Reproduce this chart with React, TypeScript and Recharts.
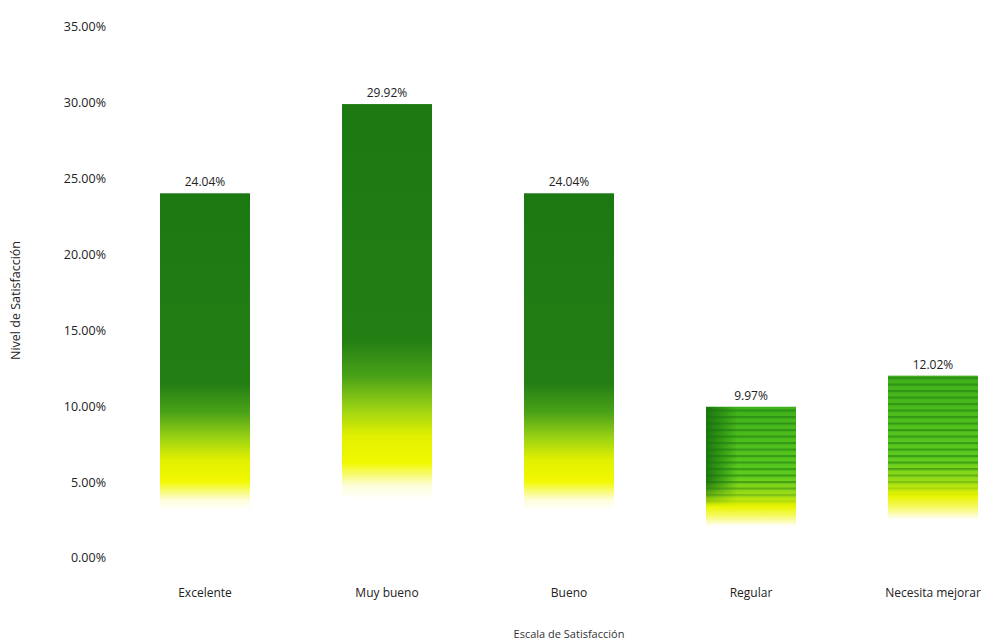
import { Bar, BarChart, LabelList, XAxis, YAxis } from "recharts";

const categories = ["Excelente", "Muy bueno", "Bueno", "Regular", "Necesita mejorar"];
const percentages = [24.04, 29.92, 24.04, 9.97, 12.02];
const yTicks = [0, 5, 10, 15, 20, 25, 30, 35];

// the two smaller bars are drawn with a lighter, striped fill
const striped = [false, false, false, true, true];

const data = categories.map((name, i) => ({ name, value: percentages[i] }));

const FONT = "'Open Sans', 'Liberation Sans', sans-serif";
const pct = (v: number) => `${v.toFixed(2)}%`;

function GradientBar(props: any) {
  const { x, y, width, height, index } = props;
  const isStriped = striped[index];
  return (
    <g>
      <rect x={x} y={y} width={width} height={height} fill={`url(#barFill${index})`} />
      {isStriped && (
        <rect
          x={x}
          y={y}
          width={width}
          height={height}
          fill="url(#stripes)"
          mask="url(#fadeDown)"
        />
      )}
      {index === 3 && (
        <rect
          x={x}
          y={y}
          width={width}
          height={height}
          fill="url(#leftShade)"
          mask="url(#fadeDown)"
        />
      )}
    </g>
  );
}

function stopsFor(i: number) {
  if (striped[i]) {
    return [
      [0, "#3fb01a"],
      [0.45, "#5ccb1e"],
      [0.58, "#9cdc16"],
      [0.66, "#e8f400"],
      [0.72, "#f6f960"],
      [0.79, "#ffffff"],
      [1, "#ffffff"],
    ];
  }
  return [
    [0, "#1c7912"],
    [0.52, "#237e14"],
    [0.6, "#4aa218"],
    [0.67, "#9ad214"],
    [0.73, "#e0f000"],
    [0.79, "#f2f800"],
    [0.84, "#fdfdd8"],
    [0.87, "#ffffff"],
    [1, "#ffffff"],
  ];
}

export default function App() {
  return (
    <div
      style={{
        position: "absolute",
        left: 0,
        top: 0,
        width: 1007,
        height: 642,
        overflow: "hidden",
        background: "#ffffff",
      }}
    >
      <BarChart
        width={1040}
        height={642}
        data={data}
        margin={{ top: 27, right: 16, bottom: 0, left: 0 }}
        barSize={90}
      >
        <defs>
          {categories.map((c, i) => (
            <linearGradient key={c} id={`barFill${i}`} x1="0" y1="0" x2="0" y2="1">
              {stopsFor(i).map(([o, col], k) => (
                <stop key={k} offset={o as number} stopColor={col as string} />
              ))}
            </linearGradient>
          ))}
          <pattern id="stripes" patternUnits="userSpaceOnUse" width={12} height={6.5}>
            <rect x={0} y={0} width={12} height={2.2} fill="#1f7a10" opacity={0.55} />
          </pattern>
          <linearGradient id="leftShade" x1="0" y1="0" x2="1" y2="0">
            <stop offset={0} stopColor="#17700e" stopOpacity={0.9} />
            <stop offset={0.2} stopColor="#17700e" stopOpacity={0.4} />
            <stop offset={0.35} stopColor="#17700e" stopOpacity={0} />
          </linearGradient>
          <linearGradient id="fadeGrad" x1="0" y1="0" x2="0" y2="1">
            <stop offset={0} stopColor="#fff" />
            <stop offset={0.5} stopColor="#fff" />
            <stop offset={0.66} stopColor="#000" />
            <stop offset={1} stopColor="#000" />
          </linearGradient>
          <mask id="fadeDown" maskContentUnits="objectBoundingBox">
            <rect x={0} y={0} width={1} height={1} fill="url(#fadeGrad)" />
          </mask>
        </defs>
        <XAxis
          dataKey="name"
          axisLine={false}
          tickLine={false}
          height={84}
          tickMargin={24}
          tick={{ fontFamily: FONT, fontSize: 12, fill: "#222" }}
          label={{
            value: "Escala de Satisfacción",
            position: "insideBottom",
            offset: 4,
            style: { fontFamily: FONT, fontSize: 11, fill: "#333" },
          }}
        />
        <YAxis
          domain={[0, 35]}
          ticks={yTicks}
          width={114}
          axisLine={false}
          tickLine={false}
          tickFormatter={pct}
          tick={{ fontFamily: FONT, fontSize: 12.5, fill: "#222" }}
          label={{
            value: "Nivel de Satisfacción",
            angle: -90,
            position: "insideLeft",
            offset: 16,
            dy: 8,
            style: { fontFamily: FONT, fontSize: 12.5, fill: "#222", textAnchor: "middle" },
          }}
        />
        <Bar dataKey="value" shape={GradientBar} isAnimationActive={false}>
          <LabelList
            dataKey="value"
            position="top"
            offset={7}
            formatter={(v: any) => pct(Number(v))}
            style={{ fontFamily: FONT, fontSize: 12, fill: "#222" }}
          />
        </Bar>
      </BarChart>
    </div>
  );
}
